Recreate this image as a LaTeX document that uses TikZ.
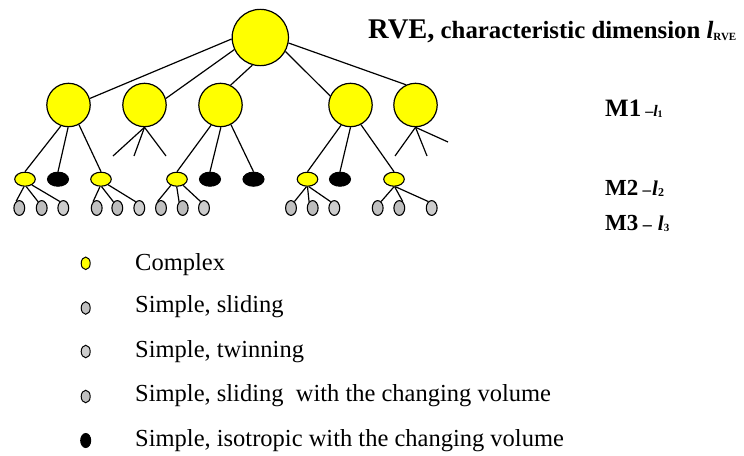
\documentclass[tikz,border=0pt]{standalone}
\usepackage{fontspec}
\setmainfont{Liberation Serif}
\usetikzlibrary{shapes.geometric}
\definecolor{cyellow}{HTML}{FFFF00}
\definecolor{cgray}{HTML}{C0C0C0}
\definecolor{cgrayb}{HTML}{BDBDBD}
\definecolor{cgrayl}{HTML}{CDCDCD}
\tikzset{
  edge/.style={line width=1.2pt},
  bigc/.style={circle, draw, line width=1.2pt, fill=cyellow, inner sep=0pt, minimum size=56.3pt},
  midc/.style={circle, draw, line width=1.2pt, fill=cyellow, inner sep=0pt, minimum size=43.4pt},
  cplx/.style={ellipse, draw, line width=1.1pt, fill=cyellow, inner sep=0pt, minimum width=20.6pt, minimum height=14pt},
  iso/.style={ellipse, draw, fill=black, line width=1.1pt, inner sep=0pt, minimum width=21pt, minimum height=14pt},
  simp/.style={ellipse, draw, line width=1.1pt, fill=#1, inner sep=0pt, minimum width=10.8pt, minimum height=14.8pt},
  simp/.default=cgray,
  lmark/.style={ellipse, draw, line width=1pt, fill=#1, inner sep=0pt, minimum width=9pt, minimum height=12.5pt},
  ltext/.style={anchor=base west, inner sep=0pt, font=\fontsize{24.5}{26}\selectfont},
  mlab/.style={anchor=base west, inner sep=0pt},
}
\begin{document}
\begin{tikzpicture}[x=1pt,y=-1pt]
\useasboundingbox (0,0) rectangle (744,455);
% root and level 1
\node[bigc] (r) at (260.3,37.5) {};
\node[midc] (c1) at (68.5,105) {};
\node[midc] (c2) at (144.5,105) {};
\node[midc] (c3) at (220.5,105) {};
\node[midc] (c4) at (350.5,105) {};
\node[midc] (c5) at (415.5,105) {};
% level 2
\node[cplx] (e1) at (25,179.2) {};
\node[iso]  (b1) at (58,179.2) {};
\node[cplx] (e2) at (101,179.2) {};
\node[cplx] (e3) at (177,179.2) {};
\node[iso]  (b2) at (210,179.2) {};
\node[iso]  (b3) at (253.5,179.2) {};
\node[cplx] (e4) at (307.5,179.2) {};
\node[iso]  (b4) at (340,179.2) {};
\node[cplx] (e5) at (394,179.2) {};
% level 3
\node[simp] (g11) at (19.3,208) {};
\node[simp=cgrayb] (g12) at (41.7,208) {};
\node[simp=cgrayl] (g13) at (63.3,208) {};
\node[simp] (g21) at (96.7,208) {};
\node[simp=cgrayb] (g22) at (117.3,208) {};
\node[simp=cgrayl] (g23) at (139.3,208) {};
\node[simp] (g31) at (161,208) {};
\node[simp=cgrayb] (g32) at (182.7,208) {};
\node[simp=cgrayl] (g33) at (204,208) {};
\node[simp] (g41) at (291,208) {};
\node[simp=cgrayb] (g42) at (312.7,208) {};
\node[simp=cgrayl] (g43) at (334.3,208) {};
\node[simp] (g51) at (377.7,208) {};
\node[simp=cgrayb] (g52) at (399.3,208) {};
\node[simp=cgrayl] (g53) at (431.7,208) {};
% free ends of the open branches
\coordinate (d21) at (113,156);
\coordinate (d22) at (134,156);
\coordinate (d23) at (166,156);
\coordinate (d51) at (395,156);
\coordinate (d52) at (427,156);
\coordinate (d53) at (448,142);
% root connectors
\draw[edge] (r.183) -- (c1.17);
\draw[edge] (r.205) -- (c2.17);
\draw[edge] (r.254) -- (c3.63);
\draw[edge] (r.331) -- (c4.156);
\draw[edge] (r.349) -- (c5.115);
% level 1 connectors
\draw[edge] (c1.250) -- (e1.north);
\draw[edge] (c1.269) -- (b1.north);
\draw[edge] (c1.298) -- (e2.north);
\draw[edge] (c2.south) -- (d21);
\draw[edge] (c2.south) -- (d22);
\draw[edge] (c2.south) -- (d23);
\draw[edge] (c3.245) -- (e3.north);
\draw[edge] (c3.271) -- (b2.north);
\draw[edge] (c3.298) -- (b3.north);
\draw[edge] (c4.245) -- (e4.north);
\draw[edge] (c4.270) -- (b4.north);
\draw[edge] (c4.298) -- (e5.north);
\draw[edge] (c5.south) -- (d51);
\draw[edge] (c5.south) -- (d52);
\draw[edge] (c5.south) -- (d53);
% level 2 connectors
\draw[edge] (e1.262) -- (g11.115);
\draw[edge] (e1.280) -- (g12.120);
\draw[edge] (e1.320) -- (g13.118);
\draw[edge] (e2.262) -- (g21.120);
\draw[edge] (e2.275) -- (g22.122);
\draw[edge] (e2.322) -- (g23.120);
\draw[edge] (e3.225) -- (g31.118);
\draw[edge] (e3.268) -- (g32.120);
\draw[edge] (e3.315) -- (g33.118);
\draw[edge] (e4.262) -- (g41.62);
\draw[edge] (e4.270) -- (g42.120);
\draw[edge] (e4.280) -- (g43.120);
\draw[edge] (e5.270) -- (g51.62);
\draw[edge] (e5.275) -- (g52.62);
\draw[edge] (e5.280) -- (g53.118);
% title and level labels
\node[mlab] (title) at (368,38.5) {\bfseries\fontsize{28.5}{30}\selectfont RVE,\fontsize{24.8}{26}\selectfont{} characteristic dimension \textit{l}\raisebox{-1.5pt}{\fontsize{11}{12}\selectfont RVE}};
\node[mlab] (m1) at (605,116.7) {\bfseries\fontsize{25}{27}\selectfont M1\fontsize{16}{18}\selectfont{} –\textit{l}\raisebox{-1pt}{\fontsize{10}{11}\selectfont 1}};
\node[mlab] (m2) at (605,195) {\bfseries\fontsize{23}{25}\selectfont M2\fontsize{17}{19}\selectfont{} –\kern1pt\fontsize{21}{23}\selectfont\textit{l}\raisebox{-1pt}{\fontsize{12}{13}\selectfont 2}};
\node[mlab] (m3) at (605,230.7) {\bfseries\fontsize{23}{25}\selectfont M3\fontsize{18}{20}\selectfont{} –\hspace{6pt}\fontsize{21}{23}\selectfont\textit{l}\raisebox{-1pt}{\fontsize{11}{12}\selectfont 3}};
% legend
\node[lmark=cyellow] (k1) at (85.7,263.3) {};
\node[lmark=cgray] (k2) at (85.7,308) {};
\node[lmark=cgrayl] (k3) at (85.7,351.5) {};
\node[lmark=cgray] (k4) at (85.7,396.5) {};
\node[lmark=black, minimum width=10pt, minimum height=14pt] (k5) at (85.7,440.5) {};
\node[ltext] (t1) at (135,270) {Complex};
\node[ltext] (t2) at (135,312.7) {Simple, sliding};
\node[ltext] (t3) at (135,357.5) {Simple, twinning};
\node[ltext] (t4) at (135,401.7) {Simple, sliding\ \ with the changing volume};
\node[ltext] (t5) at (135,446.7) {Simple, isotropic with the changing volume};
\end{tikzpicture}
\end{document}
